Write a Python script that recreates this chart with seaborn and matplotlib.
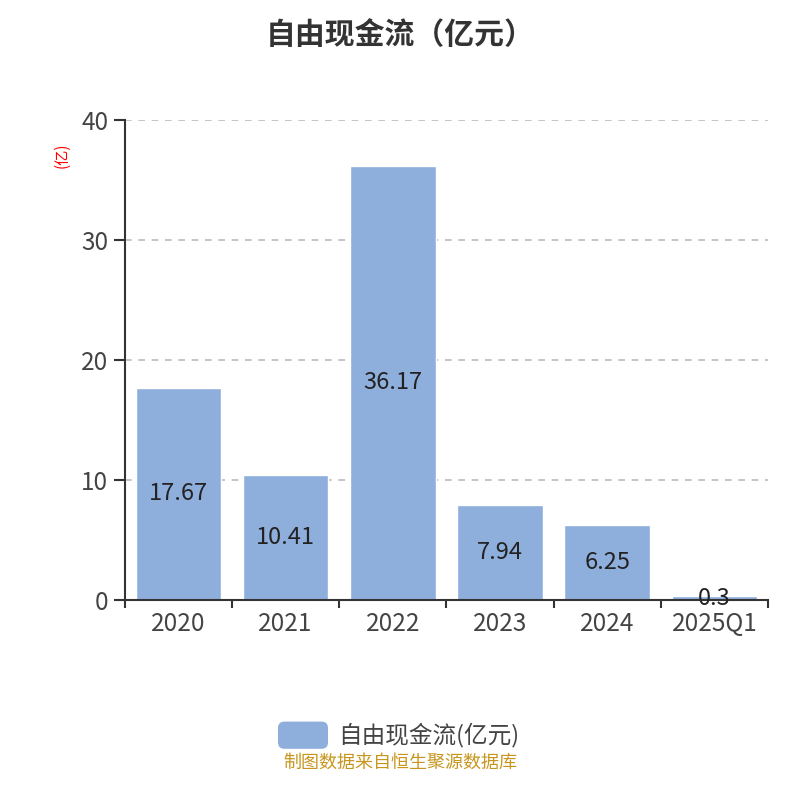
import matplotlib
matplotlib.use("Agg")
import matplotlib.pyplot as plt
import seaborn as sns
import pandas as pd
import numpy as np
from matplotlib.patches import FancyBboxPatch

categories = ["2020", "2021", "2022", "2023", "2024", "2025Q1"]
values = [17.67, 10.41, 36.17, 7.94, 6.25, 0.3]
value_labels = ["17.67", "10.41", "36.17", "7.94", "6.25", "0.3"]
yticks = [0, 10, 20, 30, 40]
series_name = "自由现金流(亿元)"

sns.set_theme(style="white")
plt.rcParams['font.family'] = ['Noto Sans CJK SC', 'DejaVu Sans']

df = pd.DataFrame({"year": categories, "value": values})

fig = plt.figure(figsize=(8, 8), dpi=100)
ax = fig.add_axes([0.156, 0.25, 0.804, 0.60])
bar_color = "#8eaedb"
sns.barplot(data=df, x="year", y="value", color=bar_color, width=0.8,
            saturation=1, ax=ax, label=series_name, legend=False)

ax.set_ylim(0, 40)
ax.set_xlim(-0.5, len(categories) - 0.5)
ax.set_yticks(yticks)
ax.set_yticklabels([str(t) for t in yticks], fontsize=17.5, color="#444444")
ax.yaxis.grid(True, linestyle=(0, (4, 4)), color="#bbbbbb", linewidth=1.2)
ax.set_axisbelow(True)

# x ticks: labels at centers, tick marks at boundaries
ax.set_xticks(range(len(categories)))
ax.set_xticklabels(categories, fontsize=17.5, color="#444444")
ax.tick_params(axis="x", which="major", length=0, pad=8)
ax.set_xticks(np.arange(-0.5, len(categories), 1.0), minor=True)
ax.tick_params(axis="x", which="minor", length=6, width=1.5, color="#333333", bottom=True)
ax.tick_params(axis="y", which="major", length=8, width=1.5, color="#333333", left=True, pad=4)

for s in ["top", "right"]:
    ax.spines[s].set_visible(False)
for s in ["left", "bottom"]:
    ax.spines[s].set_color("#333333")
    ax.spines[s].set_linewidth(1.5)

ax.set_xlabel("")
ax.set_ylabel("")

for c in ax.containers:
    ax.bar_label(c, labels=value_labels, label_type="center", fontsize=17, color="#222222")

fig.text(0.078, 0.806, "(亿)", rotation=90, color="red", fontsize=11, ha="center", va="center")
fig.suptitle("自由现金流（亿元）", y=0.975, fontsize=21.5, fontweight="bold", color="#333333")

# legend
fig.patches.append(FancyBboxPatch((0.3475, 0.064), 0.0625, 0.034, boxstyle="round,pad=0,rounding_size=0.008",
                                  transform=fig.transFigure, facecolor=bar_color, edgecolor="none"))
fig.text(0.4225, 0.081, series_name, fontsize=17, color="#444444", ha="left", va="center")

fig.text(0.5, 0.047, "制图数据来自恒生聚源数据库", fontsize=13, color="#c8961e", ha="center", va="center")

fig.savefig("out.png", dpi=100)
